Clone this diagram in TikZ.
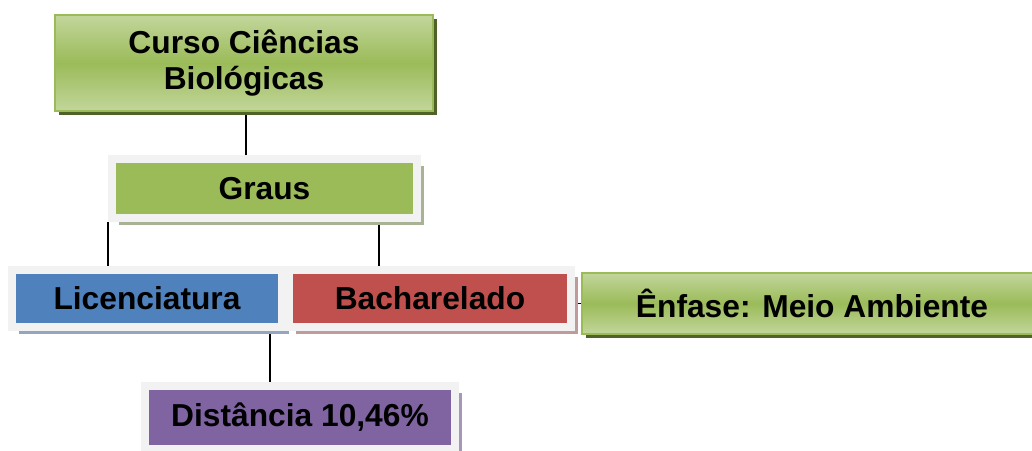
\documentclass[tikz,border=0pt]{standalone}
\usepackage{fontspec}
\setmainfont{Liberation Sans}
\usetikzlibrary{shadings,shadows,backgrounds}
\definecolor{lgreen}{HTML}{C2D69B}
\definecolor{mgreen}{HTML}{9BBB59}
\definecolor{dgreen}{HTML}{4F6228}
\definecolor{framegray}{HTML}{F2F2F2}
\definecolor{lblue}{HTML}{4F81BD}
\definecolor{lred}{HTML}{C0504D}
\definecolor{lpurple}{HTML}{8064A2}
\definecolor{shgreen}{RGB}{168,178,148}
\definecolor{shblue}{RGB}{149,165,190}
\definecolor{shred}{RGB}{192,155,155}
\definecolor{shpurple}{RGB}{165,152,182}

\begin{document}
\begin{tikzpicture}[x=0.75pt, y=-0.75pt,
  every node/.style = {shape=rectangle, align=center, inner sep=0pt,
    font=\bfseries\fontsize{23.8}{27.7}\selectfont},
  greenbox/.style = {draw=mgreen, line width=1.1pt,
    top color=lgreen, bottom color=lgreen, middle color=mgreen,
    drop shadow={shadow xshift=3.3pt, shadow yshift=-3.3pt, fill=dgreen, opacity=1}},
  framebox/.style 2 args = {fill=#1, draw=framegray, line width=6pt,
    drop shadow={shadow xshift=5.2pt, shadow yshift=-5.2pt, fill=#2, opacity=1}},
  link/.style = {draw=black, line width=1.1pt}]
  \useasboundingbox (0,0) rectangle (1032,450);
  \clip (0,0) rectangle (1032,450);
  \node[greenbox, minimum width=283.5pt, minimum height=72pt] (curso) at (244,63)
    {Curso Ciências\\Biológicas};
  \node[framebox={mgreen}{shgreen}, minimum width=228.75pt, minimum height=44.25pt] (graus) at (264.5,188.5) {Graus};
  \node[framebox={lblue}{shblue}, minimum width=202.5pt, minimum height=42.75pt] (lic) at (147,298.5) {Licenciatura};
  \node[framebox={lred}{shred}, minimum width=211.5pt, minimum height=42.75pt] (bach) at (430,298.5) {Bacharelado};
  \node[greenbox, minimum width=345pt, minimum height=45.75pt] (enfase) at (812,303.5) {Ênfase: Meio Ambiente};
  \node[framebox={lpurple}{shpurple}, minimum width=232.5pt, minimum height=47.25pt] (dist) at (300,417.5) {Distância 10,46\%};
  \coordinate (gb) at (379,218);
  \coordinate (ld) at (270,327);
  \begin{scope}[on background layer]
    \draw[link] ([xshift=1.5pt]curso.south) -- ([xshift=1.5pt]curso.south |- graus.north);
    \draw[link] (graus.south west) -- (graus.south west |- lic.north);
    \draw[link] (gb) -- (gb |- bach.north);
    \draw[link] (ld) -- (ld |- dist.north);
    \draw[link] (bach.east |- enfase.west) -- (enfase.west);
  \end{scope}
\end{tikzpicture}
\end{document}
